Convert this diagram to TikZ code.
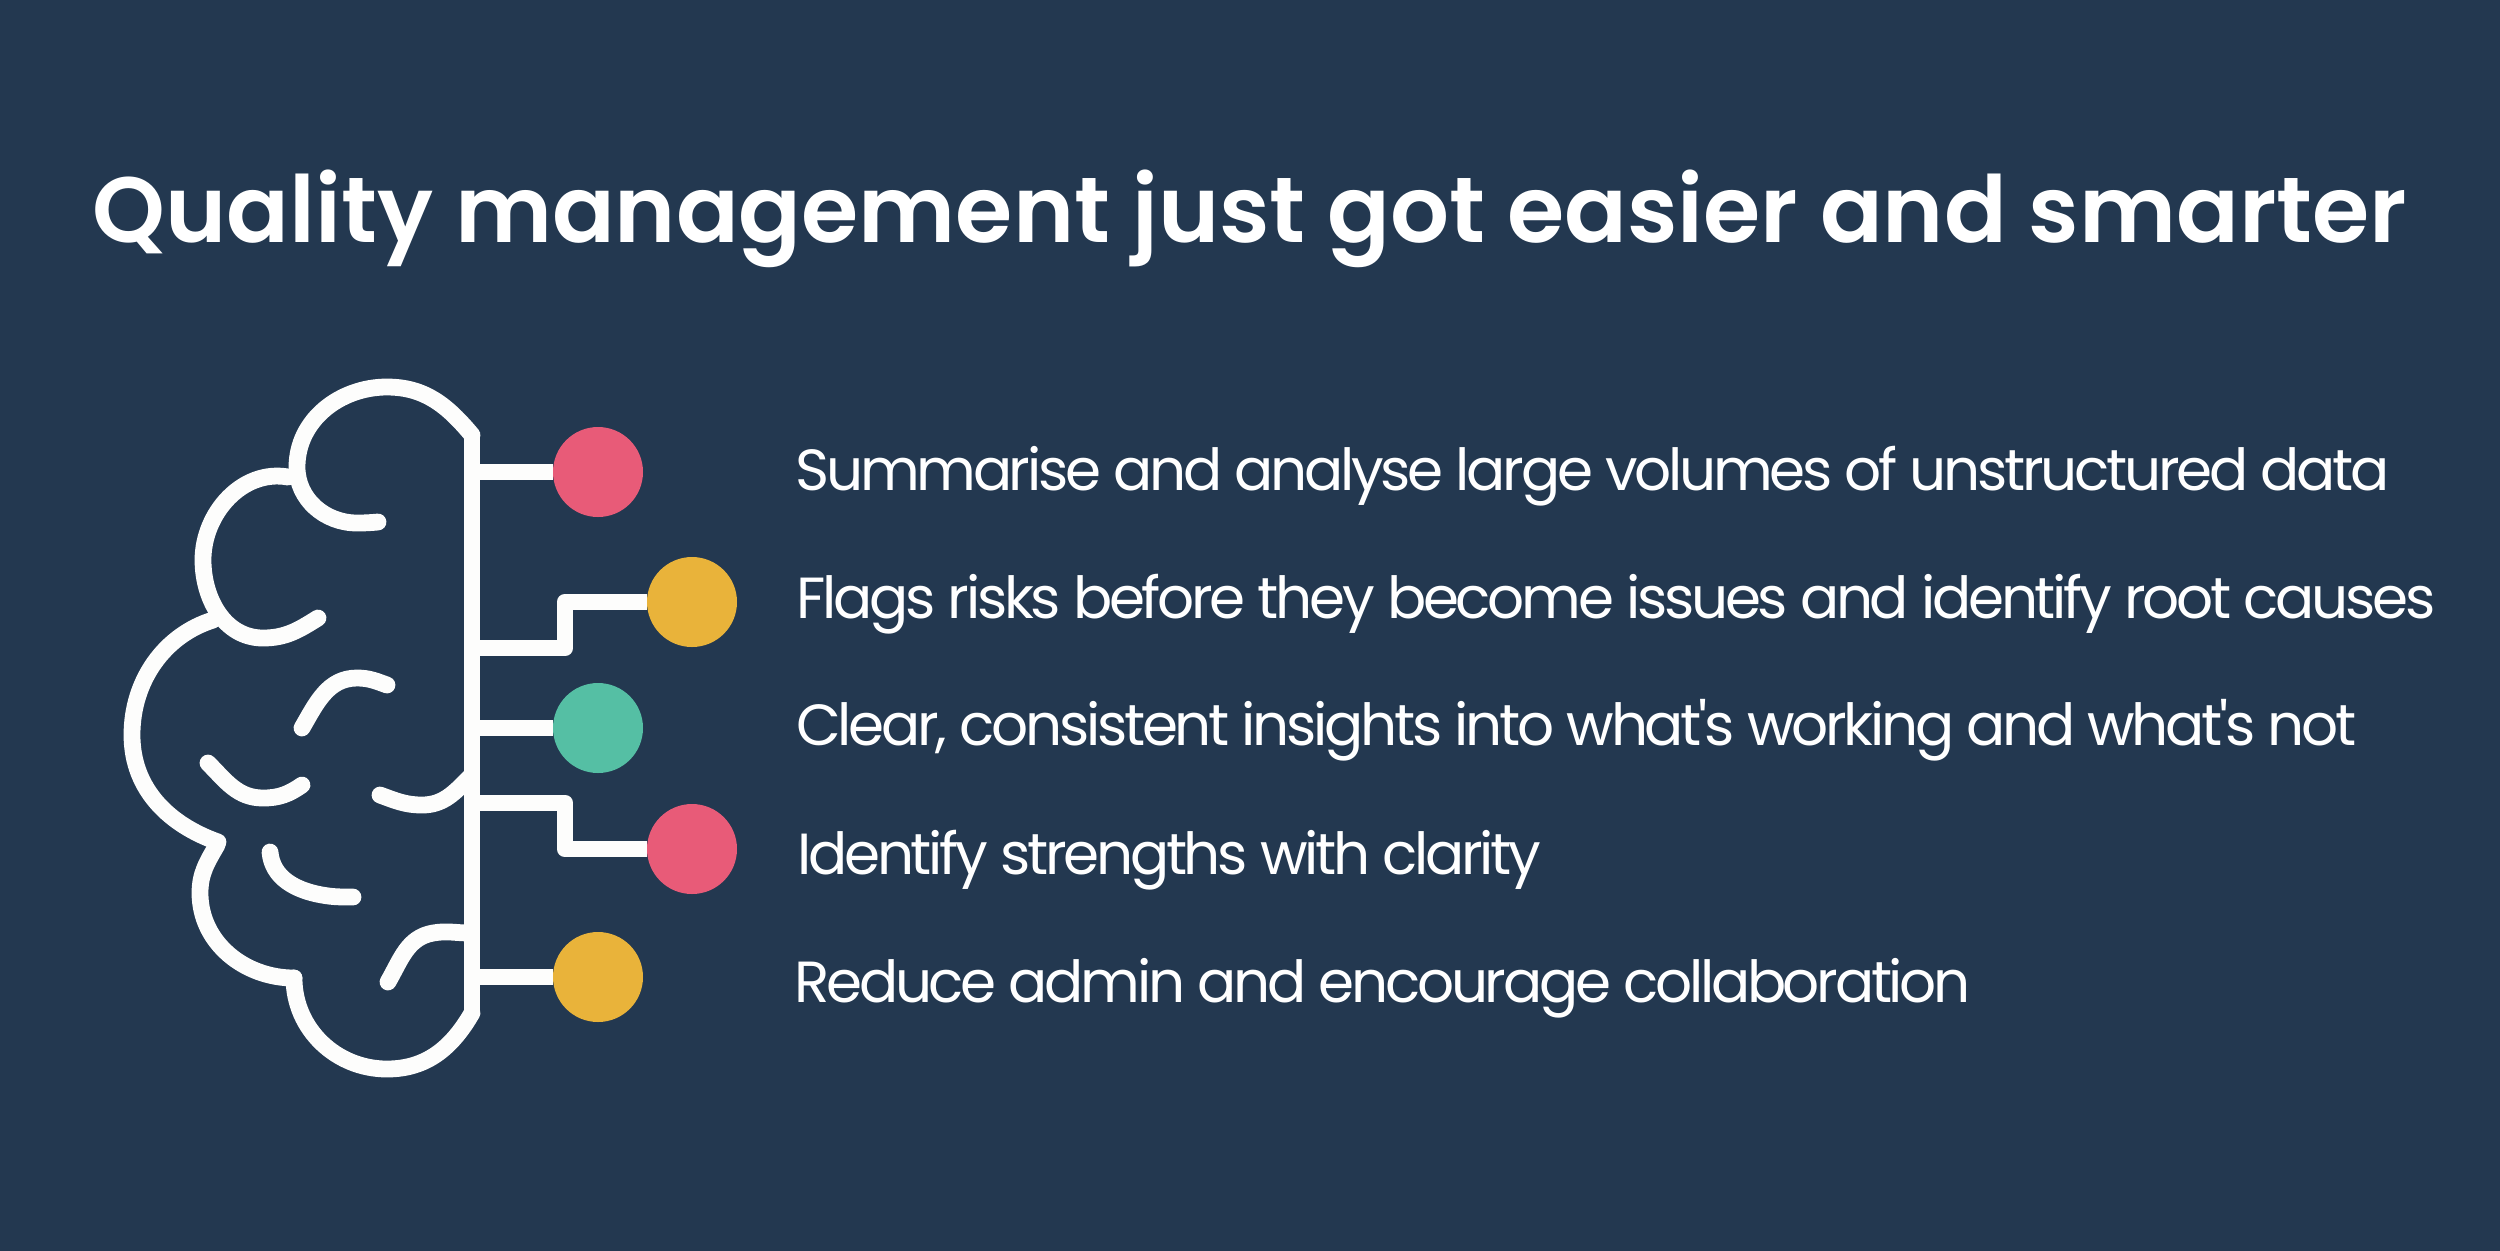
\documentclass[tikz,border=0pt]{standalone}
\usepackage{fontspec}
\setmainfont{Poppins}[Ligatures=TeXOff, LetterSpace=-5.65]
\newfontfamily\titlefont{Poppins SemiBold}
\definecolor{panelblue}{RGB}{35,56,80}
\definecolor{dotpink}{RGB}{232,91,120}
\definecolor{dotgold}{RGB}{233,179,58}
\definecolor{dotteal}{RGB}{85,191,164}
\definecolor{brainwhite}{RGB}{253,253,252}

\begin{document}
\begin{tikzpicture}[x=0.5pt, y=-0.5pt]
        \tikzstyle{brain}=[draw=brainwhite, line width=8.4pt, line cap=round, line join=round]
        \tikzstyle{wire}=[draw=brainwhite, line width=8.4pt, line join=round]
        \tikzstyle{dot}=[inner sep=0pt, minimum size=45pt, shape=circle]
        \tikzstyle{item}=[anchor=base west, inner sep=0pt, text=white, font=\fontsize{29}{29}\selectfont]
        \tikzstyle{heading}=[anchor=base, inner sep=0pt, text=white, font=\titlefont\fontsize{46.3}{46.3}\selectfont]

        \useasboundingbox (0,0) rectangle (2500,1250);
        \fill [panelblue] (-20,-20) rectangle (2520,1270);

        \node [style=heading] (title) at (1250, 242) {Quality management just got easier and smarter};

        % lobes
        \draw [style=brain] (472,435) to [out=130, in=0] (387,387) to [out=180, in=90] (297,467) to [out=270, in=180] (357,523) to [out=0, in=185] (378,522);
        \draw [style=brain] (288,477) to [out=170, in=90] (203,560) to [out=270, in=180] (263,638) to [out=0, in=212] (318,618);
        \draw [style=brain] (213,620) .. controls (165,635) and (132,680) .. (132,735) .. controls (132,790) and (170,825) .. (218,842);
        \draw [style=brain] (217,845) to [out=240, in=90] (200,893) to [out=270, in=180] (294,978);
        \draw [style=brain] (294,978) to [out=270, in=180] (387,1069) to [out=0, in=240] (472,1013);

        % folds
        \draw [style=brain] (302,728) to [out=60, in=180] (357,678) to [out=0, in=160] (387,685);
        \draw [style=brain] (208,763) to [out=-45, in=180] (263,798) to [out=0, in=215] (302,785);
        \draw [style=brain] (380,795) to [out=-20, in=180] (422,805) to [out=0, in=225] (470,777);
        \draw [style=brain] (270,852) to [out=-85, in=170] (322,895) to [out=-10, in=180] (353,897);
        \draw [style=brain] (388,982) to [out=60, in=190] (433,933) to [out=10, in=180] (470,933);

        % spine
        \coordinate (top) at (472, 432);
        \coordinate (bottom) at (472, 1013);
        \draw [style=wire] (top) to (bottom);

        \node [style=dot, fill=dotpink] (dot1) at (598, 472) {};
        \node [style=dot, fill=dotgold] (dot2) at (692, 602) {};
        \node [style=dot, fill=dotteal] (dot3) at (598, 728) {};
        \node [style=dot, fill=dotpink] (dot4) at (692, 849) {};
        \node [style=dot, fill=dotgold] (dot5) at (598, 977) {};

        \coordinate (j1) at (472, 472);
        \coordinate (j2) at (472, 648);
        \coordinate (j3) at (472, 728);
        \coordinate (j4) at (472, 803);
        \coordinate (j5) at (472, 977);
        \coordinate (k2a) at (565, 648);
        \coordinate (k2b) at (565, 602);
        \coordinate (k4a) at (565, 803);
        \coordinate (k4b) at (565, 849);

        \draw [style=wire] (j1) to (dot1);
        \draw [style=wire] (j2) to (k2a) to (k2b) to (dot2);
        \draw [style=wire] (j3) to (dot3);
        \draw [style=wire] (j4) to (k4a) to (k4b) to (dot4);
        \draw [style=wire] (j5) to (dot5);

        \node [style=item] (text1) at (795, 490) {Summarise and analyse large volumes of unstructured data};
        \node [style=item] (text2) at (796, 618) {Flags risks before they become issues and identify root causes};
        \node [style=item] (text3) at (796, 745) {Clear, consistent insights into what's working and what's not};
        \node [style=item] (text4) at (797, 874) {Identify strengths with clarity};
        \node [style=item] (text5) at (794, 1002) {Reduce admin and encourage collaboration};
\end{tikzpicture}
\end{document}
